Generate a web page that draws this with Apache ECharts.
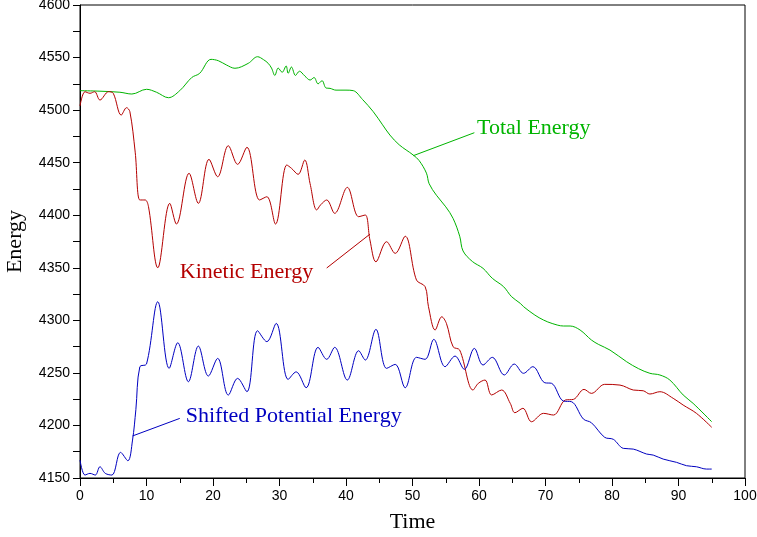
<!DOCTYPE html>
<html>
<head>
<meta charset="utf-8">
<script src="https://cdn.jsdelivr.net/npm/echarts@6/dist/echarts.min.js"></script>
<style>html,body{margin:0;padding:0;background:#fff}#c{width:757px;height:537px}</style>
</head>
<body>
<div id="c"></div>
<script>
var totalTime = [0, 3, 6, 7.8, 10, 11.5, 13.3, 15, 16.8, 18, 19.7, 20.8, 22, 23.3, 25.3, 26.7, 27.6, 28.3, 28.8, 29.3, 29.8, 30.4, 31, 31.3, 31.8, 32.4, 33, 33.8, 34.6, 35.2, 35.8, 36.4, 37, 37.6, 38.5, 40, 41.1, 42.5, 44.1, 45.5, 46.6, 48, 50.1, 51, 52.1, 52.5, 53.6, 55, 56.1, 57.1, 57.6, 59, 60.6, 62, 63.7, 64.9, 66.2, 66.7, 68.4, 69.7, 71, 72.7, 73.7, 75.2, 76.9, 78, 79.7, 82.2, 84, 85.7, 87.2, 88.7, 90.7, 92.2, 95];
var totalEnergy = [4518.5, 4518, 4517, 4515.3, 4519.8, 4517, 4511.8, 4518.5, 4531, 4535, 4548.3, 4547, 4543, 4539.8, 4544.5, 4550.8, 4548, 4544.5, 4540, 4533, 4540, 4536, 4542, 4535, 4541, 4533, 4537, 4532.5, 4528.6, 4531, 4525, 4528, 4521, 4520.7, 4519, 4519, 4518.5, 4510, 4498.5, 4486, 4476.3, 4467, 4457.3, 4452, 4440, 4430, 4419, 4408, 4397, 4380, 4366, 4356, 4349.5, 4340, 4332, 4322.5, 4316.2, 4313, 4305, 4300.3, 4297, 4294.6, 4294.6, 4290.8, 4281.3, 4277, 4271.7, 4260.6, 4254, 4249.6, 4248, 4243.2, 4229, 4221, 4203.5];

var kineticTime = [0, 0.75, 1.5, 2.2, 3.0, 4.3, 5.0, 6.2, 7.0, 7.5, 8.3, 9.0, 9.8, 10.3, 11.7, 13.5, 14.5, 16.4, 17.8, 19.4, 20.7, 22.3, 23.7, 25.1, 27.0, 28.1, 29.4, 31.1, 31.8, 32.8, 33.8, 34.6, 35.6, 36.2, 37.1, 38.3, 40.2, 41.9, 42.9, 43.6, 44.5, 46.1, 47.4, 48.9, 50.6, 51.9, 52.4, 53.4, 54.4, 55.1, 56.1, 57.1, 59.1, 59.9, 60.9, 61.9, 63.4, 64.7, 65.4, 66.6, 67.9, 69.7, 71.2, 73.0, 74.2, 75.8, 76.9, 78.9, 81.2, 83.2, 84.7, 85.7, 87.2, 89.2, 90.7, 92.7, 95.0];
var kineticEnergy = [4503.9, 4517.5, 4516, 4517.5, 4509.6, 4517.5, 4516, 4495.3, 4502.3, 4498.5, 4460, 4414.5, 4414.5, 4408.1, 4350, 4411.3, 4391.6, 4439.9, 4411.3, 4453.2, 4436.6, 4466.1, 4448.4, 4464.6, 4414.5, 4417.6, 4391.6, 4447.8, 4444.6, 4438.9, 4452.5, 4430, 4405, 4410, 4414.5, 4401.8, 4426.5, 4398.6, 4400.2, 4376.4, 4355.7, 4374.8, 4363.7, 4380, 4338.3, 4332, 4313, 4290.8, 4303.4, 4297.1, 4274.9, 4271.7, 4233.7, 4240.1, 4243.2, 4229, 4233.7, 4221, 4212.1, 4216.3, 4203.5, 4211.5, 4209.9, 4224.2, 4224.8, 4234.3, 4230.5, 4239.1, 4238.4, 4233.7, 4233, 4229.9, 4232.1, 4225.8, 4219.4, 4211.5, 4198.2];

var potentialTime = [0, 0.75, 1.5, 2.3, 3.0, 3.8, 4.8, 6.1, 7.2, 7.9, 8.4, 9.0, 10.0, 11.7, 13.4, 14.7, 16.3, 17.8, 19.3, 20.7, 22.3, 23.7, 25.1, 26.7, 28.1, 29.5, 31.3, 32.5, 34.0, 35.8, 37.1, 38.3, 40.2, 41.9, 42.9, 44.5, 46.1, 47.4, 48.9, 50.6, 51.9, 53.2, 54.9, 56.4, 57.8, 59.3, 60.6, 62.0, 63.8, 65.3, 66.7, 68.1, 69.9, 70.9, 72.7, 73.9, 75.7, 76.9, 78.9, 80.2, 81.7, 83.2, 85.2, 86.2, 87.7, 89.7, 91.2, 92.7, 94.2, 95.0];
var potentialEnergy = [4167.1, 4152.8, 4154.4, 4152.8, 4160.7, 4154.4, 4152.8, 4174.4, 4166.4, 4186.1, 4215, 4255.9, 4258.4, 4317.7, 4254.3, 4278.7, 4241.6, 4275.5, 4247, 4263.8, 4228.9, 4244.8, 4232.1, 4290.1, 4279.7, 4297.1, 4243.8, 4251, 4235.9, 4274.3, 4262.9, 4274.3, 4243.2, 4271.1, 4262.2, 4291.4, 4254.3, 4258.1, 4235.9, 4264.8, 4262.9, 4281.9, 4255.9, 4266, 4253.4, 4273.3, 4257.5, 4264.8, 4248, 4258.4, 4249.6, 4255.9, 4240.6, 4240.1, 4223.2, 4222.6, 4206.1, 4202.6, 4188.7, 4186.8, 4178.2, 4177.5, 4172.8, 4171.8, 4168, 4164.9, 4161.7, 4160.7, 4158.5, 4158.5];

var seriesNames = ['Total Energy', 'Kinetic Energy', 'Shifted Potential Energy'];
// annotation anchors: [leader start (on curve), leader end, label position]
var totalNote = [[50.1, 4456.6], [59.3, 4478.5], [59.7, 4483]];
var kineticNote = [[43.6, 4382], [37.1, 4349.8], [15.0, 4346]];
var potentialNote = [[7.9, 4190], [15.0, 4206.7], [15.9, 4209]];

function zip(a, b) { return a.map(function (v, i) { return [v, b[i]]; }); }

var GREEN = '#00b400', RED = '#b40000', BLUE = '#0000c0';
var serif = '"Liberation Serif", "Times New Roman", serif';
var sans = '"Liberation Sans", Arial, sans-serif';

function mkSeries(name, t, e, color, note) {
  return {
    name: name, type: 'line', data: zip(t, e), showSymbol: false, smooth: 0.35,
    lineStyle: { color: color, width: 1 }, animation: false, clip: true,
    markLine: {
      silent: true, symbol: ['none', 'none'], animation: false,
      lineStyle: { color: color, width: 1, type: 'solid' }, label: { show: false },
      data: [[{ coord: note[0] }, { coord: note[1] }]]
    },
    markPoint: {
      silent: true, animation: false, symbol: 'circle', symbolSize: 0,
      itemStyle: { color: 'transparent' },
      label: { show: true, position: 'right', distance: 0, formatter: name, color: color, fontFamily: serif, fontSize: 22 },
      data: [{ coord: note[2] }]
    }
  };
}

var chart = echarts.init(document.getElementById('c'), null, { renderer: 'canvas' });
chart.setOption({
  backgroundColor: '#fff',
  animation: false,
  grid: { left: 80, right: 12, top: 5, bottom: 59, show: true, borderColor: '#000', borderWidth: 1, outerBoundsMode: 'none', containLabel: false },
  xAxis: {
    type: 'value', min: 0, max: 100, interval: 10,
    name: 'Time', nameLocation: 'middle', nameGap: 33,
    nameTextStyle: { fontFamily: serif, fontSize: 22, color: '#000' },
    axisLine: { lineStyle: { color: '#000', width: 1 } },
    axisTick: { inside: false, length: 8, lineStyle: { color: '#000' } },
    minorTick: { show: true, splitNumber: 2, length: 5, lineStyle: { color: '#000' } },
    axisLabel: { margin: 11, color: '#000', fontFamily: sans, fontSize: 14, formatter: function (v) { return String(v); } },
    splitLine: { show: false }
  },
  yAxis: {
    type: 'value', min: 4150, max: 4600, interval: 50,
    name: 'Energy', nameLocation: 'middle', nameGap: 54, nameRotate: 90,
    nameTextStyle: { fontFamily: serif, fontSize: 22, color: '#000' },
    axisLine: { show: true, lineStyle: { color: '#000', width: 1 } },
    axisTick: { show: true, inside: false, length: 7, lineStyle: { color: '#000' } },
    minorTick: { show: true, splitNumber: 2, length: 7, lineStyle: { color: '#000' } },
    axisLabel: { margin: 10, color: '#000', fontFamily: sans, fontSize: 14, formatter: function (v) { return String(v); } },
    splitLine: { show: false }
  },
  series: [
    mkSeries(seriesNames[0], totalTime, totalEnergy, GREEN, totalNote),
    mkSeries(seriesNames[1], kineticTime, kineticEnergy, RED, kineticNote),
    mkSeries(seriesNames[2], potentialTime, potentialEnergy, BLUE, potentialNote)
  ]
});
</script>
</body>
</html>
